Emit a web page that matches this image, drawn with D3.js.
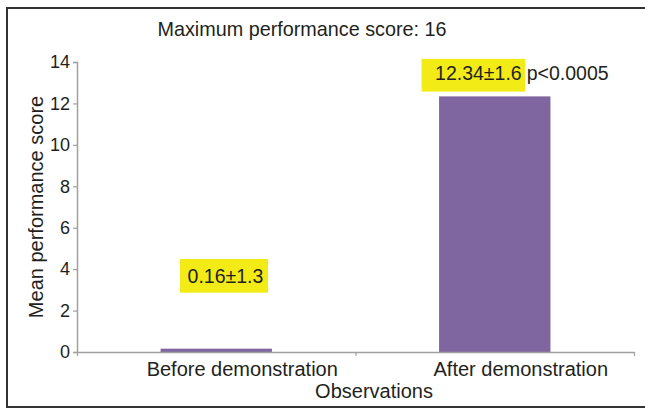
<!DOCTYPE html>
<html>
<head>
<meta charset="utf-8">
<script src="https://cdn.jsdelivr.net/npm/d3@7"></script>
<style>
  html, body { margin: 0; padding: 0; background: #fff; }
  svg { display: block; }
  text { font-family: "Liberation Sans", Arial, sans-serif; fill: #231f20; }
</style>
</head>
<body>
<svg id="chart" width="645" height="409"></svg>
<script>
const categories = ["Before demonstration", "After demonstration"];
const meanScores = [0.16, 12.34];
const scoreLabels = ["0.16±1.3", "12.34±1.6"];
const pValueLabel = "p<0.0005";
const yTicks = [0, 2, 4, 6, 8, 10, 12, 14];
const titleText = "Maximum performance score: 16";
const xTitle = "Observations";
const yTitle = "Mean performance score";

(function () {
const svg = d3.select("#chart");

// outer frame
svg.append("rect")
  .attr("x", 7).attr("y", 8).attr("width", 650).attr("height", 399)
  .attr("fill", "none").attr("stroke", "#333").attr("stroke-width", 2);

const mL = 77, mR = 634, mT = 62, mB = 352;

const y = d3.scaleLinear().domain([0, 14]).range([mB, mT]);
const x = d3.scaleBand().domain(categories).range([mL, mR])
  .paddingInner(0.6).paddingOuter(0.3);
const xb = d3.scaleBand().domain(categories).range([mL, mR]).padding(0);

// title
svg.append("text").attr("x", 302).attr("y", 35.5)
  .attr("text-anchor", "middle").style("font-size", "19.8px").text(titleText);

// bars
svg.selectAll("rect.bar").data(categories).enter().append("rect")
  .attr("class", "bar")
  .attr("x", d => x(d))
  .attr("width", x.bandwidth())
  .attr("y", (d, i) => y(meanScores[i]))
  .attr("height", (d, i) => y(0) - y(meanScores[i]))
  .attr("fill", "#8066a1");

// y axis
const yAxis = svg.append("g").attr("transform", `translate(${mL},0)`)
  .call(d3.axisLeft(y).tickValues(yTicks).tickSize(4).tickPadding(3).tickFormat(d3.format("d")));
yAxis.select(".domain").attr("stroke", "#a0a0a0").attr("stroke-width", 1.5);
yAxis.selectAll(".tick line").attr("stroke", "#a0a0a0").attr("stroke-width", 1.2);
yAxis.selectAll(".tick text").style("font-size", "18px")
  .style("font-family", '"Liberation Sans", Arial, sans-serif').attr("fill", "#231f20");

// x axis: boundary ticks
const boundaries = [mL].concat(categories.map(c => xb(c) + xb.bandwidth()));
const xLin = d3.scaleLinear().domain([mL, mR]).range([mL, mR]);
const xAxis = svg.append("g").attr("transform", `translate(0,${mB})`)
  .call(d3.axisBottom(xLin).tickValues(boundaries).tickSize(4).tickSizeOuter(0).tickFormat(""));
xAxis.select(".domain").attr("stroke", "#a0a0a0").attr("stroke-width", 1.5);
xAxis.selectAll(".tick line").attr("stroke", "#a0a0a0").attr("stroke-width", 1.2);

// category labels
svg.selectAll("text.cat").data(categories).enter().append("text")
  .attr("class", "cat")
  .attr("x", d => x(d) + x.bandwidth() / 2 + 26)
  .attr("y", 375.5)
  .attr("text-anchor", "middle").style("font-size", "20px")
  .text(d => d);

// x title
svg.append("text").attr("x", 374).attr("y", 397.5)
  .attr("text-anchor", "middle").style("font-size", "20px").text(xTitle);

// y title
svg.append("text")
  .attr("transform", `translate(43,207) rotate(-90)`)
  .attr("text-anchor", "middle").style("font-size", "20px").text(yTitle);

// value annotations with yellow highlight
const boxes = [
  { x: x(categories[0]) + 19.5, y: 259, w: 88, h: 33.7, tx: x(categories[0]) + 27, ty: 282.7 },
  { x: x(categories[1]) - 17.5, y: y(meanScores[1]) - 37.5, w: 103.7, h: 32.7, tx: x(categories[1]) - 4, ty: y(meanScores[1]) - 16 }
];
boxes.forEach((b, i) => {
  svg.append("rect").attr("x", b.x).attr("y", b.y).attr("width", b.w).attr("height", b.h)
    .attr("fill", "#f3eb16");
  svg.append("text").attr("x", b.tx).attr("y", b.ty)
    .style("font-size", "19.5px").text(scoreLabels[i]);
});
svg.append("text").attr("x", x(categories[1]) + 87.7).attr("y", boxes[1].ty)
  .style("font-size", "19.5px").text(pValueLabel);
})();
</script>
</body>
</html>
